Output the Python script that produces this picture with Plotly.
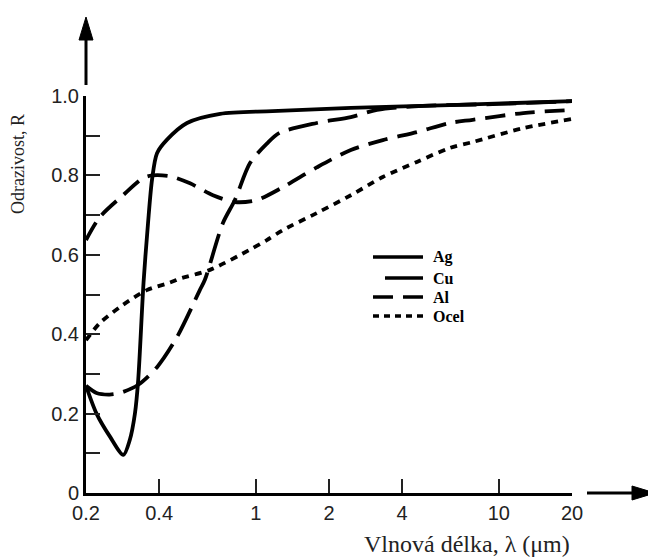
import math
import plotly.graph_objects as go

# ---- data ----
ag_x = [0.2, 0.221, 0.251, 0.285, 0.303, 0.318, 0.328, 0.345, 0.36, 0.374, 0.392, 0.431, 0.521, 0.713, 1.17, 2.46, 6.27, 20]
ag_y = [0.27, 0.20, 0.142, 0.096, 0.134, 0.20, 0.285, 0.53, 0.68, 0.79, 0.856, 0.89, 0.932, 0.955, 0.962, 0.97, 0.977, 0.987]

cu_x = [0.2, 0.221, 0.25, 0.276, 0.327, 0.392, 0.474, 0.588, 0.617, 0.732, 0.82, 0.946, 1.11, 1.25, 1.78, 2.46, 3.15, 4.5, 10, 20]
cu_y = [0.27, 0.252, 0.248, 0.252, 0.272, 0.317, 0.393, 0.511, 0.537, 0.68, 0.738, 0.831, 0.88, 0.907, 0.932, 0.947, 0.965, 0.974, 0.98, 0.987]

al_x = [0.2, 0.228, 0.284, 0.343, 0.374, 0.443, 0.536, 0.666, 0.82, 1.01, 1.29, 1.78, 2.46, 3.33, 4.6, 6.27, 7.8, 12.6, 20]
al_y = [0.637, 0.695, 0.75, 0.793, 0.80, 0.798, 0.78, 0.75, 0.733, 0.738, 0.77, 0.82, 0.864, 0.889, 0.909, 0.932, 0.94, 0.957, 0.965]

ocel_x = [0.2, 0.228, 0.284, 0.356, 0.443, 0.487, 0.647, 0.946, 1.11, 1.29, 1.78, 2.46, 3.33, 4.6, 6.27, 7.8, 12.6, 20]
ocel_y = [0.385, 0.428, 0.474, 0.511, 0.53, 0.54, 0.562, 0.613, 0.637, 0.662, 0.705, 0.75, 0.796, 0.834, 0.869, 0.884, 0.919, 0.942]

series_names = ["Ag", "Cu", "Al", "Ocel"]

x_tickvals = [0.2, 0.4, 1, 2, 4, 10, 20]
x_ticktext = ["0.2", "0.4", "1", "2", "4", "10", "20"]
y_tickvals = [0, 0.1, 0.2, 0.3, 0.4, 0.5, 0.6, 0.7, 0.8, 0.9, 1.0]
y_ticktext = ["0", "", "0.2", "", "0.4", "", "0.6", "", "0.8", "", "1.0"]

x_title = "Vlnová délka, λ (μm)"
y_title = "Odrazivost, R"

# ---- figure (page body has an 8px margin, so the figure is placed at (8, 8)) ----
OFF = 8
W, H = 656 - OFF, 557 - OFF
L, R, T, B = 86 - OFF, 84, 96 - OFF, 64
PW, PH = W - L - R, H - T - B

def px(x):  # window pixel x -> paper
    return (x - OFF - L) / PW

def py(y):  # window pixel y -> paper
    return (H - B - (y - OFF)) / PH

BLACK = "#000000"
styles = {
    "Ag": dict(color=BLACK, width=3.8, dash="solid"),
    "Cu": dict(color=BLACK, width=3.8, dash="30px,10px"),
    "Al": dict(color=BLACK, width=3.8, dash="20px,10px"),
    "Ocel": dict(color=BLACK, width=3.8, dash="7px,6px"),
}
data = {"Ag": (ag_x, ag_y), "Cu": (cu_x, cu_y), "Al": (al_x, al_y), "Ocel": (ocel_x, ocel_y)}

fig = go.Figure()
for name in ["Ocel", "Al", "Cu", "Ag"]:
    xs, ys = data[name]
    fig.add_trace(go.Scatter(x=xs, y=ys, mode="lines", name=name,
                             line=dict(shape="spline", smoothing=0.8, **styles[name]),
                             showlegend=False, hoverinfo="skip"))

tickfont = dict(family="Liberation Sans, Arial, sans-serif", size=20, color="#222222")
fig.update_layout(
    width=W, height=H,
    margin=dict(l=L, r=R, t=T, b=B),
    paper_bgcolor="white", plot_bgcolor="white",
    xaxis=dict(type="log", range=[math.log10(0.2), math.log10(20)],
               showline=True, linewidth=3, linecolor=BLACK, mirror=False,
               ticks="inside", ticklen=14, tickwidth=2, tickcolor="#222222",
               tickvals=x_tickvals, ticktext=x_ticktext, tickfont=tickfont,
               showgrid=False, zeroline=False),
    yaxis=dict(range=[0, 1.0], showline=True, linewidth=3, linecolor=BLACK,
               ticks="inside", ticklen=14, tickwidth=2, tickcolor="#222222",
               tickvals=y_tickvals, ticktext=y_ticktext, tickfont=tickfont,
               showgrid=False, zeroline=False),
)

shapes = []
# y-axis arrow
shapes.append(dict(type="line", xref="paper", yref="paper", x0=px(86), x1=px(86), y0=py(85), y1=py(38),
                   line=dict(color=BLACK, width=3)))
shapes.append(dict(type="path", xref="paper", yref="paper",
                   path=f"M {px(79)} {py(40)} L {px(93)} {py(40)} L {px(86)} {py(17)} Z",
                   fillcolor=BLACK, line=dict(color=BLACK, width=1)))
# x-axis arrow
shapes.append(dict(type="line", xref="paper", yref="paper", x0=px(587), x1=px(634), y0=py(493), y1=py(493),
                   line=dict(color=BLACK, width=3)))
shapes.append(dict(type="path", xref="paper", yref="paper",
                   path=f"M {px(632)} {py(486)} L {px(632)} {py(500)} L {px(655)} {py(493)} Z",
                   fillcolor=BLACK, line=dict(color=BLACK, width=1)))

# legend (drawn manually to mimic the reference)
leg_rows = {"Ag": (373, 257, "solid"), "Cu": (385, 278, "solid"),
            "Al": (373, 297, "20px,10px"), "Ocel": (373, 316, "6px,5px")}
annotations = []
for name in series_names:
    x0, yy, dash = leg_rows[name]
    shapes.append(dict(type="line", xref="paper", yref="paper", x0=px(x0), x1=px(423),
                       y0=py(yy), y1=py(yy), line=dict(color=BLACK, width=3.5, dash=dash)))
    annotations.append(dict(xref="paper", yref="paper", x=px(431), y=py(yy), text=f"<b>{name}</b>",
                            showarrow=False, xanchor="left", yanchor="middle",
                            font=dict(family="Liberation Serif, Times New Roman, serif", size=16, color=BLACK)))

annotations.append(dict(xref="paper", yref="paper", x=px(18), y=py(164), text=y_title, textangle=-90,
                        showarrow=False, xanchor="center", yanchor="middle",
                        font=dict(family="Liberation Serif, Times New Roman, serif", size=18, color="#222222")))
annotations.append(dict(xref="paper", yref="paper", x=px(467), y=py(544), text=x_title,
                        showarrow=False, xanchor="center", yanchor="middle",
                        font=dict(family="Liberation Serif, Times New Roman, serif", size=24, color="#222222")))

fig.update_layout(shapes=shapes, annotations=annotations)
fig.write_html("out.html")
